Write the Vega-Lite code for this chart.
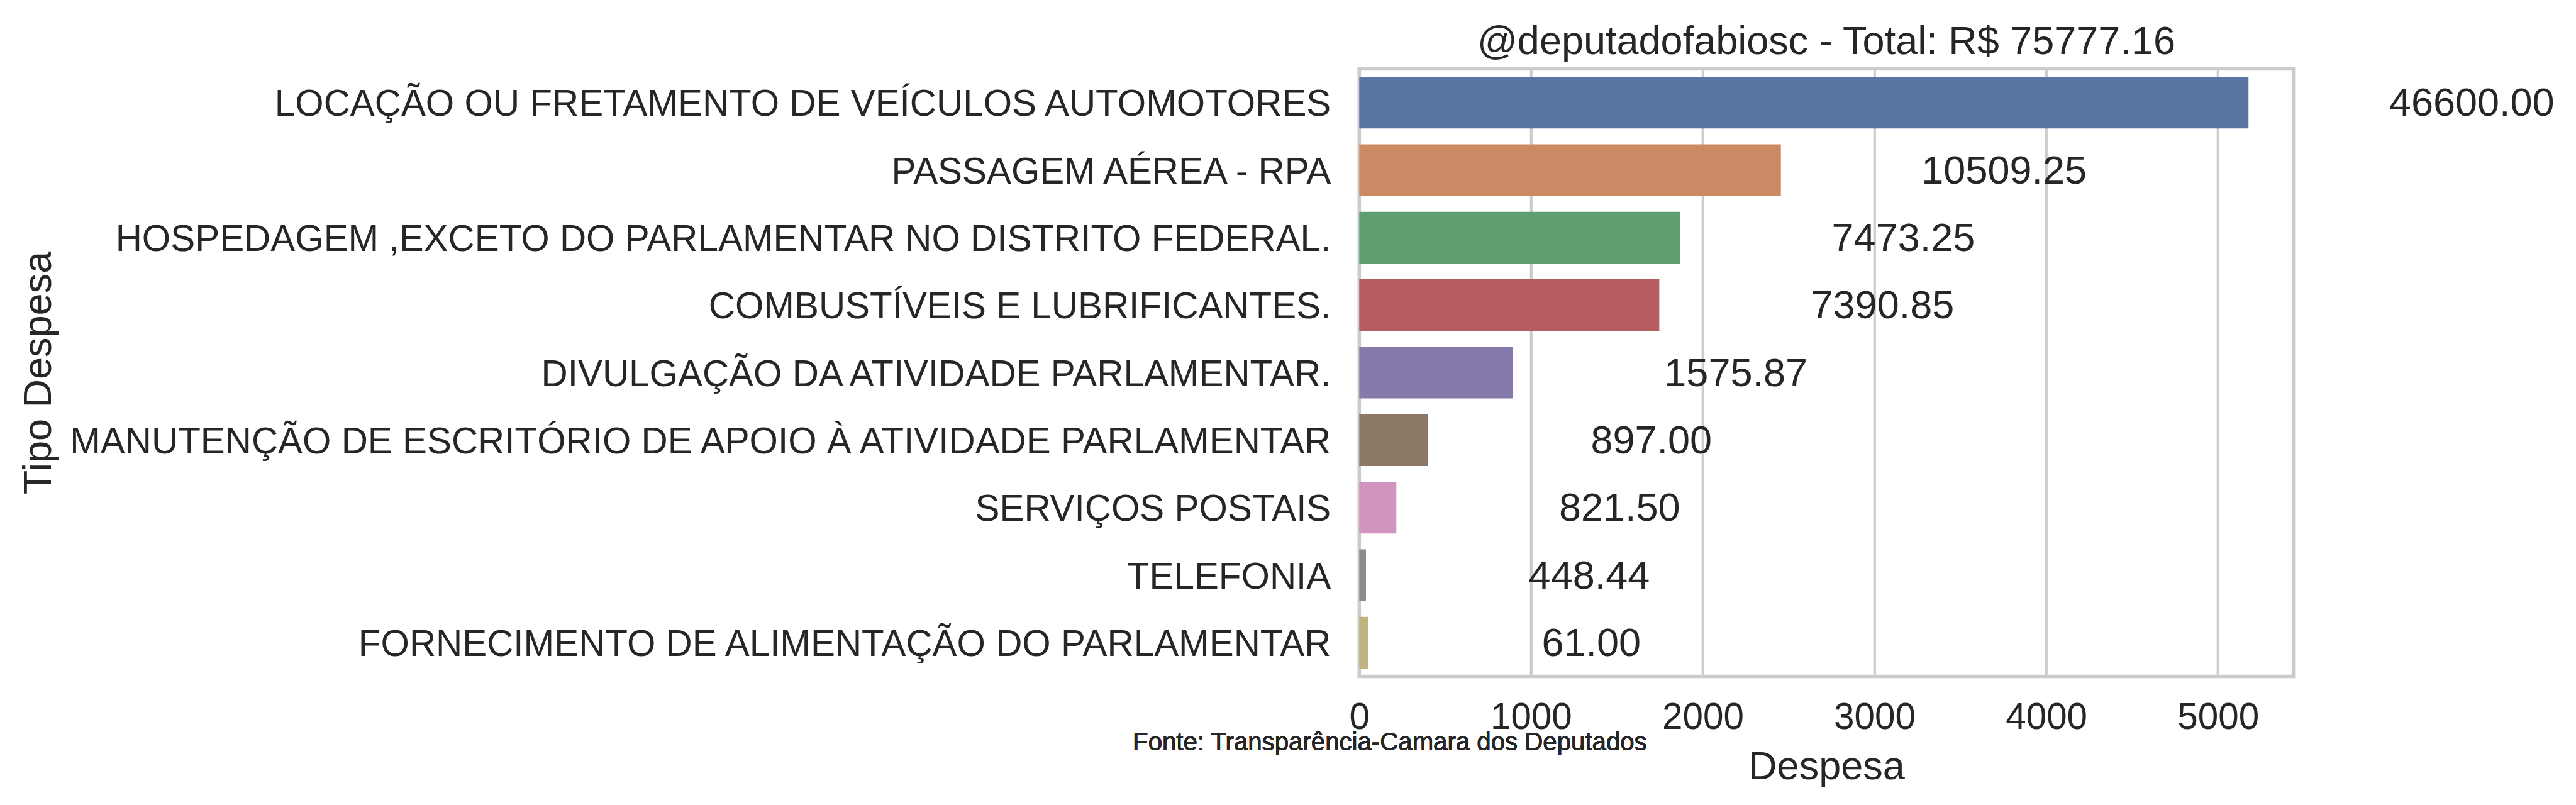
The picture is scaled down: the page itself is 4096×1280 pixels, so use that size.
{
  "$schema": "https://vega.github.io/schema/vega-lite/v6.json",
  "width": 1485.3,
  "height": 966,
  "autosize": {"type": "none"},
  "padding": {"left": 2161.3, "top": 109.5, "right": 449.4, "bottom": 204.5},
  "background": "white",
  "title": {
    "text": "@deputadofabiosc - Total: R$ 75777.16",
    "fontSize": 63,
    "font": "Liberation Sans",
    "fontWeight": "normal",
    "color": "#262626",
    "anchor": "middle",
    "offset": 11
  },
  "config": {
    "view": {"stroke": "#cccccc", "strokeWidth": 5.6},
    "font": "Liberation Sans",
    "text": {"font": "Liberation Sans"}
  },
  "data": {
    "values": [
      {"tipo": "LOCAÇÃO OU FRETAMENTO DE VEÍCULOS AUTOMOTORES", "media": 5177.78, "total": 46600.00},
      {"tipo": "PASSAGEM AÉREA - RPA", "media": 2455, "total": 10509.25},
      {"tipo": "HOSPEDAGEM ,EXCETO DO PARLAMENTAR NO DISTRITO FEDERAL.", "media": 1868, "total": 7473.25},
      {"tipo": "COMBUSTÍVEIS E LUBRIFICANTES.", "media": 1747, "total": 7390.85},
      {"tipo": "DIVULGAÇÃO DA ATIVIDADE PARLAMENTAR.", "media": 893, "total": 1575.87},
      {"tipo": "MANUTENÇÃO DE ESCRITÓRIO DE APOIO À ATIVIDADE PARLAMENTAR", "media": 401, "total": 897.00},
      {"tipo": "SERVIÇOS POSTAIS", "media": 216, "total": 821.50},
      {"tipo": "TELEFONIA", "media": 39, "total": 448.44},
      {"tipo": "FORNECIMENTO DE ALIMENTAÇÃO DO PARLAMENTAR", "media": 51, "total": 61.00}
    ]
  },
  "layer": [
    {
      "mark": {"type": "bar"},
      "encoding": {
        "y": {
          "field": "tipo",
          "type": "nominal",
          "sort": null,
          "scale": {
            "domain": [
              "LOCAÇÃO OU FRETAMENTO DE VEÍCULOS AUTOMOTORES",
              "PASSAGEM AÉREA - RPA",
              "HOSPEDAGEM ,EXCETO DO PARLAMENTAR NO DISTRITO FEDERAL.",
              "COMBUSTÍVEIS E LUBRIFICANTES.",
              "DIVULGAÇÃO DA ATIVIDADE PARLAMENTAR.",
              "MANUTENÇÃO DE ESCRITÓRIO DE APOIO À ATIVIDADE PARLAMENTAR",
              "SERVIÇOS POSTAIS",
              "TELEFONIA",
              "FORNECIMENTO DE ALIMENTAÇÃO DO PARLAMENTAR"
            ],
            "paddingInner": 0.235,
            "paddingOuter": 0.1175
          },
          "axis": {
            "title": "Tipo Despesa",
            "titleFontSize": 63,
            "titleFontWeight": "normal",
            "titleColor": "#262626",
            "titleFont": "Liberation Sans",
            "titleX": -2068,
            "titleY": 483,
            "labelFont": "Liberation Sans",
            "labelFontSize": 58.4,
            "labelColor": "#262626",
            "labelPadding": 45.5,
            "labelOffset": 3,
            "labelLimit": 4000,
            "ticks": false,
            "domain": false,
            "grid": false
          }
        },
        "x": {
          "field": "media",
          "type": "quantitative",
          "scale": {"domain": [0, 5439], "nice": false, "zero": true},
          "axis": {
            "title": "Despesa",
            "titleFontSize": 63,
            "titleFontWeight": "normal",
            "titleColor": "#262626",
            "titleFont": "Liberation Sans",
            "titlePadding": 19,
            "labelFont": "Liberation Sans",
            "labelFontSize": 58.4,
            "labelColor": "#262626",
            "labelPadding": 37,
            "labelFlush": false,
            "labelOverlap": false,
            "values": [0, 1000, 2000, 3000, 4000, 5000],
            "format": "d",
            "ticks": false,
            "domain": false,
            "grid": true,
            "gridColor": "#cccccc",
            "gridWidth": 4.2
          }
        },
        "color": {
          "field": "tipo",
          "type": "nominal",
          "sort": null,
          "scale": {
            "domain": [
              "LOCAÇÃO OU FRETAMENTO DE VEÍCULOS AUTOMOTORES",
              "PASSAGEM AÉREA - RPA",
              "HOSPEDAGEM ,EXCETO DO PARLAMENTAR NO DISTRITO FEDERAL.",
              "COMBUSTÍVEIS E LUBRIFICANTES.",
              "DIVULGAÇÃO DA ATIVIDADE PARLAMENTAR.",
              "MANUTENÇÃO DE ESCRITÓRIO DE APOIO À ATIVIDADE PARLAMENTAR",
              "SERVIÇOS POSTAIS",
              "TELEFONIA",
              "FORNECIMENTO DE ALIMENTAÇÃO DO PARLAMENTAR"
            ],
            "range": ["#5975a4", "#cc8963", "#5f9e6e", "#b55d60", "#857aab", "#8d7866", "#d095bf", "#8c8c8c", "#c1b37f"]
          },
          "legend": null
        }
      }
    },
    {
      "mark": {"type": "text", "align": "center", "baseline": "middle", "dx": 355, "dy": 2, "fontSize": 63, "color": "#262626", "font": "Liberation Sans"},
      "encoding": {
        "y": {"field": "tipo", "type": "nominal", "sort": null},
        "x": {"field": "media", "type": "quantitative"},
        "text": {"field": "total", "type": "quantitative", "format": ".2f"}
      }
    },
    {
      "mark": {"type": "text", "align": "center", "baseline": "alphabetic", "dy": 171, "fontSize": 40.2, "color": "#262626", "font": "Liberation Sans"},
      "encoding": {
        "x": {"datum": 178},
        "y": {"datum": "FORNECIMENTO DE ALIMENTAÇÃO DO PARLAMENTAR"},
        "text": {"value": "Fonte: Transparência-Camara dos Deputados"}
      }
    }
  ]
}
